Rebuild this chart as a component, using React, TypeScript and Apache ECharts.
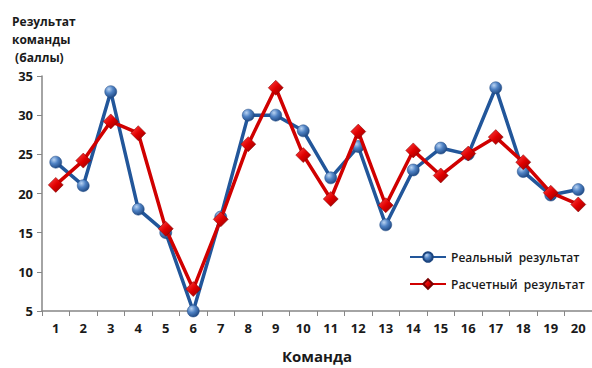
import React, { useEffect, useRef } from "react";
import * as echarts from "echarts";

const teams = ["1", "2", "3", "4", "5", "6", "7", "8", "9", "10", "11", "12", "13", "14", "15", "16", "17", "18", "19", "20"];
const realScores = [24, 21, 33, 18, 15, 5, 17, 30, 30, 28, 22, 26, 16, 23, 25.8, 25, 33.5, 22.8, 19.8, 20.5];
const predictedScores = [21.1, 24.2, 29.2, 27.7, 15.5, 7.8, 16.7, 26.3, 33.5, 24.9, 19.3, 27.9, 18.5, 25.5, 22.3, 25.1, 27.2, 24, 20.1, 18.6];
const yAxisTitle = ["Результат", "команды", " (баллы)"];
const xAxisTitle = "Команда";
const seriesNames = ["Реальный  результат", "Расчетный  результат"];

const FONT = "'Open Sans', 'Noto Sans', sans-serif";
const BLUE = "#22569a";
const RED = "#d00000";

export default function App() {
  const ref = useRef<HTMLDivElement>(null);

  useEffect(() => {
    if (!ref.current) return;
    const chart = echarts.init(ref.current, undefined, { renderer: "svg" });

    const blueBall = new echarts.graphic.RadialGradient(0.35, 0.3, 0.75, [
      { offset: 0, color: "#b9d3f2" },
      { offset: 0.45, color: "#4f82c4" },
      { offset: 1, color: "#1d4680" },
    ]);
    const redGem = new echarts.graphic.LinearGradient(0, 0, 1, 1, [
      { offset: 0, color: "#ff4a4a" },
      { offset: 0.5, color: "#e00000" },
      { offset: 1, color: "#8a0000" },
    ]);

    chart.setOption({
      animation: false,
      backgroundColor: "#ffffff",
      grid: { left: 42, right: 0, top: 76, bottom: 52 },
      legend: {
        orient: "vertical",
        left: 404,
        top: 246,
        itemWidth: 36,
        itemHeight: 12,
        itemGap: 15,
        textStyle: { fontFamily: FONT, fontSize: 12, fontWeight: 600, color: "#1a1a1a" },
        data: seriesNames,
      },
      xAxis: {
        type: "category",
        data: teams,
        boundaryGap: true,
        axisLine: { lineStyle: { color: "#868686", width: 1.5 } },
        axisTick: { show: true, length: 5, lineStyle: { color: "#868686" } },
        axisLabel: { fontFamily: FONT, fontSize: 13, fontWeight: "bold", color: "#1a1a1a", margin: 10 },
        name: xAxisTitle,
        nameLocation: "middle",
        nameGap: 37,
        nameTextStyle: { fontFamily: FONT, fontSize: 15, fontWeight: "bold", color: "#1a1a1a" },
        splitLine: { show: false },
      },
      yAxis: {
        type: "value",
        min: 5,
        max: 35,
        interval: 5,
        axisLine: { show: true, lineStyle: { color: "#868686", width: 1.5 } },
        axisTick: { show: true, length: 5, lineStyle: { color: "#868686" } },
        axisLabel: { fontFamily: FONT, fontSize: 13, fontWeight: "bold", color: "#1a1a1a", margin: 9 },
        splitLine: { show: false },
      },
      graphic: [
        {
          type: "text",
          left: 12,
          top: 12,
          style: {
            text: yAxisTitle.join("\n"),
            font: `bold 12px ${FONT}`,
            lineHeight: 18,
            fill: "#1a1a1a",
          },
        },
      ],
      series: [
        {
          name: seriesNames[0],
          type: "line",
          data: realScores,
          symbol: "circle",
          symbolSize: 12,
          lineStyle: { color: BLUE, width: 3.5 },
          itemStyle: { color: blueBall, borderColor: "#1d4680", borderWidth: 0.5 },
          z: 2,
        },
        {
          name: seriesNames[1],
          type: "line",
          data: predictedScores,
          symbol: "diamond",
          symbolSize: 15,
          lineStyle: { color: RED, width: 3.5 },
          itemStyle: { color: redGem, borderColor: "#7a0000", borderWidth: 0.5 },
          z: 3,
        },
      ],
    });

    return () => chart.dispose();
  }, []);

  return (
    <div
      ref={ref}
      style={{ position: "fixed", left: 0, top: 0, width: 592, height: 368, background: "#fff" }}
    />
  );
}
